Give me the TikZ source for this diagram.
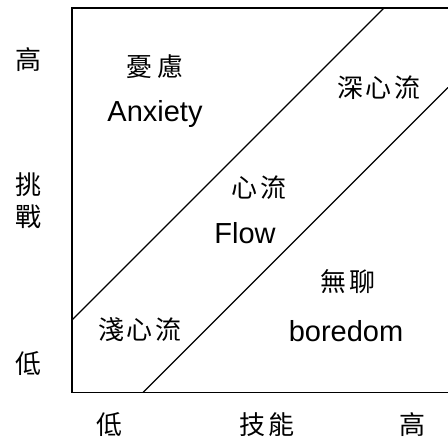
\documentclass[tikz,border=0pt]{standalone}
\usepackage{fontspec}
\setmainfont{Liberation Sans}
\newfontfamily\cjk{Noto Sans CJK TC}
\begin{document}
\begin{tikzpicture}[x=1pt,y=-1pt,
  cjklab/.style={inner sep=0pt,font=\cjk\fontsize{26}{26}\selectfont},
  enlab/.style={inner sep=0pt,anchor=base,font=\fontsize{29}{29}\selectfont},
  axisline/.style={line width=1.8pt},
  divline/.style={line width=1.2pt}]
\useasboundingbox (0,0) rectangle (448,443);
% frame
\coordinate (tl) at (72,8);
\coordinate (tr) at (448,8);
\coordinate (bl) at (72,392.5);
\coordinate (br) at (448,392.5);
\draw[axisline] (tr) -- (tl) -- (bl) -- (br);
% diagonals
\coordinate (d1a) at (384,8);
\coordinate (d1b) at (72,320);
\coordinate (d2a) at (143,392.5);
\coordinate (d2b) at (448,87.5);
\draw[divline] (d1a) -- (d1b);
\draw[divline] (d2a) -- (d2b);
% axis labels
\node[cjklab] (yhigh) at (29,60) {高};
\node[cjklab] (ytiao) at (29,185) {挑};
\node[cjklab] (yzhan) at (29,217) {戰};
\node[cjklab] (ylow) at (29,364) {低};
\node[cjklab] (xlow) at (109,425) {低};
\node[cjklab] (xskill) at (267,425) {技\hspace{4pt}能};
\node[cjklab] (xhigh) at (412,425) {高};
% region labels
\node[cjklab] (anxzh) at (155,67) {憂\hspace{5pt}慮};
\node[enlab] (anxen) at (155,122) {Anxiety};
\node[cjklab] (deep) at (379,88) {深\hspace{3pt}心\hspace{3pt}流};
\node[cjklab] (flowzh) at (259,188) {心\hspace{4pt}流};
\node[enlab] (flowen) at (245,244) {Flow};
\node[cjklab] (borzh) at (348,282) {無\hspace{4pt}聊};
\node[enlab] (boren) at (346,342) {boredom};
\node[cjklab] (shallow) at (140,330) {淺\hspace{3pt}心\hspace{3pt}流};
\end{tikzpicture}
\end{document}
